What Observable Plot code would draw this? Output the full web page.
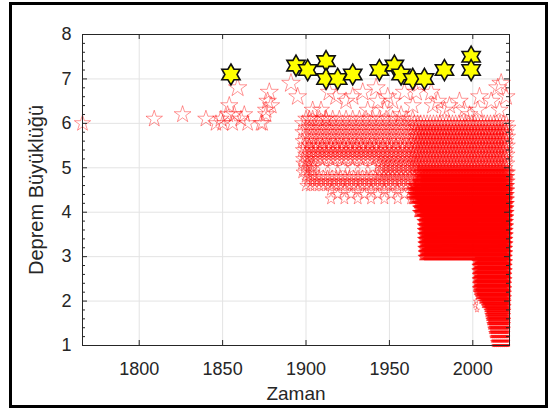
<!DOCTYPE html>
<html>
<head>
<meta charset="utf-8">
<script src="https://cdn.jsdelivr.net/npm/d3@7"></script>
<script src="https://cdn.jsdelivr.net/npm/@observablehq/plot@0.6"></script>
<style>
  html, body { margin: 0; padding: 0; background: #fff; }
  #wrap { position: relative; width: 553px; height: 410px; overflow: hidden; }
  #wrap svg { position: absolute; left: 0; top: 0; }
  #border { position: absolute; left: 9px; top: 2px; width: 539px; height: 406px;
            border: 3px solid #000; box-sizing: border-box; pointer-events: none; }
</style>
</head>
<body>
<div id="wrap"><div id="border"></div></div>
<script>
// ---- Axis ticks ----
const xTickValues = [1800, 1850, 1900, 1950, 2000];
const yTickValues = [1, 2, 3, 4, 5, 6, 7, 8];
const yMinorTicks = [1.2, 1.4, 1.6, 1.8, 2.2, 2.4, 2.6, 2.8, 3.2, 3.4, 3.6, 3.8,
  4.2, 4.4, 4.6, 4.8, 5.2, 5.4, 5.6, 5.8, 6.2, 6.4, 6.6, 6.8, 7.2, 7.4, 7.6, 7.8];

// ---- Large earthquakes (M >= 7), drawn as yellow hexagrams ----
const bigYears = [1855, 1894, 1901, 1912, 1912, 1919, 1928, 1944, 1953, 1957, 1964, 1971, 1983, 1999, 1999];
const bigMags  = [7.1, 7.3, 7.2, 7.4, 7.0, 7.0, 7.1, 7.2, 7.3, 7.1, 7.0, 7.0, 7.2, 7.5, 7.2];

// ---- Individually visible catalogue events (red pentagrams) ----
const sparseYears = [1766, 1809, 1826, 1840, 1846, 1849, 1850, 1853, 1854, 1856, 1857, 1859, 1861, 1863,
  1865, 1873, 1874, 1876, 1876, 1877, 1878, 1879, 1891, 1895,
  1902, 1904, 1909, 1912, 1914, 1918, 1924, 1928, 1934, 1937, 1942, 1943, 1947, 1949, 1952,
  1957, 1959, 1964, 1966, 1968, 1975, 1976, 1979, 1983, 1986, 1992, 1995, 1998, 2003, 2004,
  2011, 2015, 2017, 2016, 2020, 2002, 2001.5, 2002.5];
const sparseMags = [6.0, 6.1, 6.2, 6.1, 6.0, 6.1, 6.0, 6.2, 6.4, 6.0, 6.2, 6.8, 6.1, 6.2,
  6.0, 6.0, 6.0, 6.2, 6.3, 6.5, 6.7, 6.4, 6.9, 6.6,
  6.1, 6.3, 6.3, 6.1, 6.7, 6.6, 6.5, 6.6, 6.7, 6.3, 6.8, 6.5, 6.3, 6.6, 6.5,
  6.2, 6.7, 6.4, 6.7, 6.9, 6.7, 6.4, 6.5, 6.3, 6.4, 6.5, 6.3, 6.2, 6.3, 6.6,
  6.5, 6.8, 6.9, 6.3, 6.6, 2.0, 1.9, 1.8];

// ---- Dense catalogue blocks: rows of events (0.1 magnitude apart) between two years ----
const bandFrom  = [2012, 2011.5, 2011, 2010.5, 2010, 2009.5, 2009, 2008.5, 2008, 2006.5, 2005, 2003, 2002, 2001.5,
  1969.5, 1967, 1964, 1967, 1965, 1898, 1898, 1898, 1944, 1904, 1900, 1915];
const bandTo    = [2021.6, 2021.6, 2021.6, 2021.6, 2021.6, 2021.6, 2021.6, 2021.6, 2021.6, 2021.6, 2021.6, 2021.6, 2021.6, 2021.6,
  2021.6, 2021.6, 2021.6, 2021.6, 2021.6, 1965, 1965, 1904, 1965, 1944, 1965, 1964];
const bandLow   = [1.0, 1.1, 1.2, 1.3, 1.4, 1.5, 1.6, 1.7, 1.8, 1.9, 2.0, 2.1, 2.2, 2.3,
  3.0, 4.0, 4.3, 4.7, 5.0, 5.6, 5.2, 4.9, 4.9, 5.0, 4.6, 4.3];
const bandHigh  = [1.0, 1.1, 1.2, 1.3, 1.4, 1.5, 1.6, 1.7, 1.8, 1.9, 2.0, 2.1, 2.2, 2.9,
  3.9, 4.2, 4.6, 4.9, 6.0, 6.1, 5.5, 5.1, 5.1, 5.0, 4.8, 4.5];
const bandEvery = [0.4, 0.4, 0.4, 0.35, 0.35, 0.3, 0.3, 0.3, 0.3, 0.3, 0.3, 0.3, 0.3, 0.3,
  0.3, 0.3, 0.4, 0.6, 1.9, 4, 2.6, 3, 2.6, 6, 2.6, 8];

// ---- Build tables ----
const big = bigYears.map((t, i) => ({t, m: bigMags[i]}));
const catalogue = [];
bandFrom.forEach((from, b) => {
  let row = 0;
  for (let m10 = Math.round(bandLow[b] * 10); m10 <= Math.round(bandHigh[b] * 10); m10++, row++) {
    const start = from + (row % 2) * bandEvery[b] / 2;
    for (let t = start; t <= bandTo[b] + 1e-9; t += bandEvery[b]) catalogue.push({t, m: m10 / 10});
  }
});
sparseYears.forEach((t, i) => catalogue.push({t, m: sparseMags[i]}));

// MATLAB-style hexagram symbol
const hexagram = {
  draw(context, size) {
    const R = Math.sqrt(size / Math.PI), r = R / Math.sqrt(3);
    for (let i = 0; i < 12; i++) {
      const a = -Math.PI / 2 + i * Math.PI / 6, rr = i % 2 ? r : R;
      const x = rr * Math.cos(a), y = rr * Math.sin(a);
      i ? context.lineTo(x, y) : context.moveTo(x, y);
    }
    context.closePath();
  }
};

const W = 427, H = 311;
const chart = Plot.plot({
  width: 553, height: 410,
  marginLeft: 82, marginRight: 44, marginTop: 34, marginBottom: 65,
  x: {domain: [1766, 2022], ticks: xTickValues, tickSize: 0, tickPadding: 17, tickFormat: d => String(d), label: null},
  y: {domain: [1, 8], ticks: yTickValues, tickSize: 0, tickPadding: 11, tickFormat: d => String(d), label: null},
  r: {type: "linear", domain: [0, 8], range: [0, 6.8]},
  style: {fontFamily: "'Liberation Sans', Arial, Helvetica, sans-serif", fontSize: "18px", color: "#262626", background: "transparent", overflow: "visible"},
  marks: [
    Plot.ruleX(xTickValues, {stroke: "#e3e3e3", strokeWidth: 1}),
    Plot.ruleY(yTickValues, {stroke: "#e3e3e3", strokeWidth: 1}),
    Plot.dot(catalogue, {x: "t", y: "m", r: "m", symbol: "star", fill: "none", stroke: "#ff0000", strokeWidth: 0.75, strokeOpacity: 0.55}),
    Plot.dot(big, {x: "t", y: "m", r: 10.5, symbol: hexagram, fill: "#ffff00", stroke: "#111", strokeWidth: 1.6}),
    Plot.frame({stroke: "#262626", strokeWidth: 1}),
    Plot.ruleX(xTickValues, {stroke: "#262626", insetTop: H - 5}),
    Plot.ruleX(xTickValues, {stroke: "#262626", insetBottom: H - 5}),
    Plot.ruleY(yTickValues, {stroke: "#262626", insetRight: W - 5}),
    Plot.ruleY(yTickValues, {stroke: "#262626", insetLeft: W - 5}),
    Plot.ruleY(yMinorTicks, {stroke: "#262626", insetRight: W - 3}),
    Plot.ruleY(yMinorTicks, {stroke: "#262626", insetLeft: W - 3}),
    Plot.text(["Zaman"], {frameAnchor: "bottom", dy: 48, fontSize: 19, fill: "#262626", textAnchor: "middle", lineAnchor: "middle"}),
    Plot.text(["Deprem Büyüklüğü"], {frameAnchor: "left", dx: -46, rotate: -90, fontSize: 20, fill: "#262626", textAnchor: "middle", lineAnchor: "middle"})
  ]
});
document.getElementById("wrap").insertBefore(chart, document.getElementById("border"));
</script>
</body>
</html>
